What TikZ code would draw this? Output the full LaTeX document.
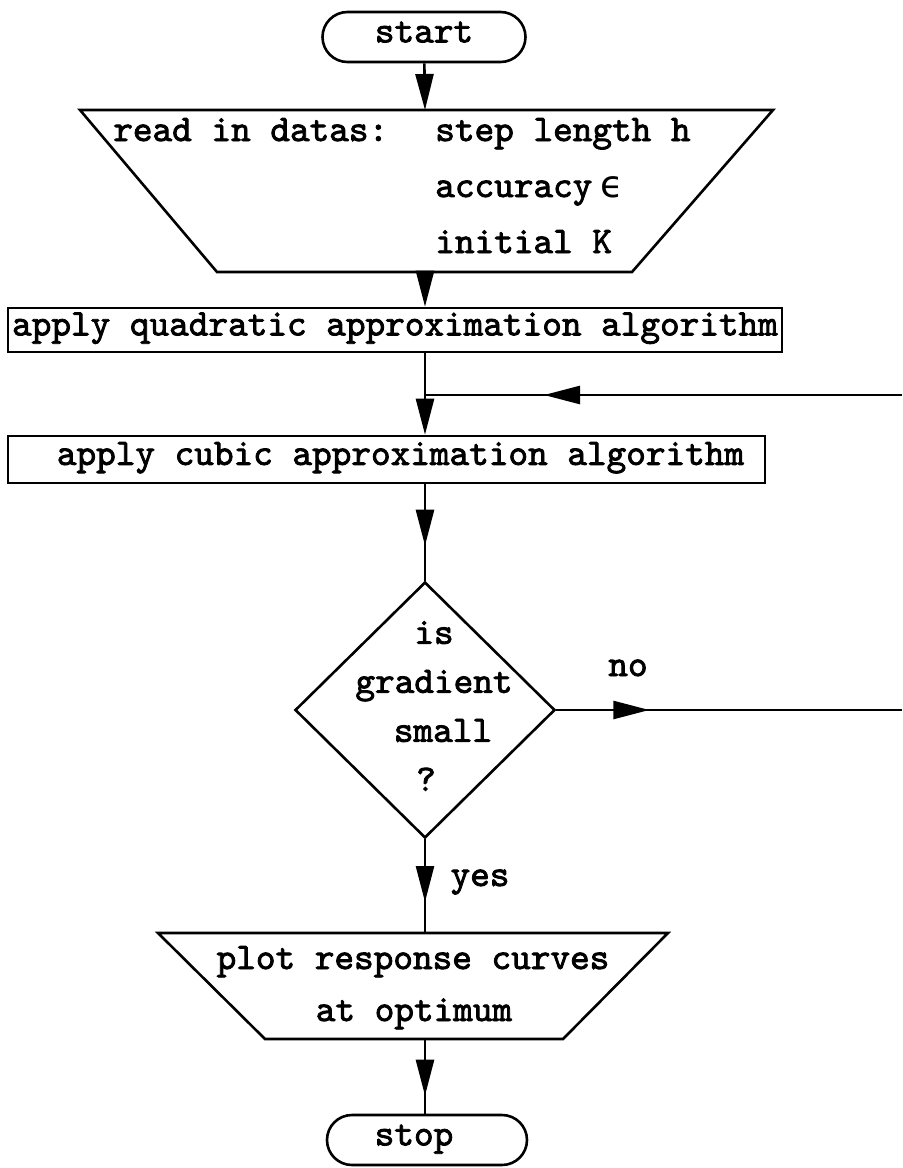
\documentclass[tikz,border=0pt]{standalone}
\usepackage{fontspec}
\newfontfamily\tw[FakeBold=2.2]{lmmono10-regular.otf}
\newfontfamily\dvs{DejaVu Sans}
\usetikzlibrary{shapes.geometric,arrows.meta,decorations.markings}
\tikzset{
  txt/.style={font=\tw\fontsize{18.7}{24.5}\selectfont, inner sep=0pt},
  termbox/.style={txt, draw, rounded corners=12.5pt, minimum width=101.5pt, minimum height=25pt, text height=1.5ex, text depth=.25ex},
  procbox/.style={txt, draw, minimum height=22pt, text height=1.5ex, text depth=.25ex},
  conn/.style={line width=1.3pt},
  endtip/.style={-{Triangle[length=18pt,width=9pt]}},
  tipat/.style={postaction={decorate}, decoration={markings, mark=at position #1 with {\arrow{Triangle[length=18pt,width=9pt]}}}},
}
\begin{document}
\begin{tikzpicture}[x=0.5pt, y=-0.5pt, line width=1.3pt]
\useasboundingbox (0,0) rectangle (902,1168);

% start
\node[termbox] (start) at (424,37) {start};

% input trapezoid
\draw (80,110) -- (773,110) -- (632,272) -- (217,272) -- cycle;
\coordinate (t1top) at (425,110);
\coordinate (t1bot) at (425,272);
\node[txt, anchor=base west] (l1a) at (112,141) {read in datas:};
\node[txt, anchor=base west] (l1b) at (434,141) {step length h};
\node[txt, anchor=base west] (l2) at (434,197) {accuracy\hspace{4pt}{\dvs ϵ}};
\node[txt, anchor=base west] (l3) at (434,253) {initial K};

% process boxes
\node[procbox, minimum width=387pt] (quad) at (395,330) {apply quadratic approximation algorithm};
\node[procbox, minimum width=378.5pt, minimum height=23.5pt] (cubic) at (386.5,459.5) {\hspace*{14pt}apply cubic approximation algorithm};

\coordinate (j) at (425,395);
\coordinate (r1) at (902,395);

% decision
\node[draw, diamond, minimum width=130pt, minimum height=128pt, inner sep=0pt] (dia) at (425,710) {};
\node[txt, align=center] (dtxt) at (434,706) {is\\gradient\\\hspace*{9pt}small\\?\hspace*{8pt}};
\coordinate (r2) at (902,710);
\node[txt, anchor=base] (nolbl) at (628,676) {no};
\node[txt, anchor=base] (yeslbl) at (480,886) {yes};

% output trapezoid
\draw (158,933) -- (668,933) -- (563,1039) -- (265,1039) -- cycle;
\coordinate (t2top) at (425,933);
\coordinate (t2bot) at (425,1039);
\node[txt, anchor=base] (p1) at (413,969) {plot response curves};
\node[txt, anchor=base] (p2) at (414,1021) {at optimum};

% stop
\node[termbox, minimum width=100pt] (stop) at (427,1140) {stop\hspace*{13pt}};

% connectors
\draw[conn, endtip] (start) -- (t1top);
\draw[conn, endtip] (t1bot) -- (t1bot |- quad.north);
\draw[conn, endtip] (t1bot |- quad.south) -- (t1bot |- cubic.north);
\draw[conn, tipat=179pt] (r1) -- (j);
\draw[conn, tipat=-17.5pt] (t1bot |- cubic.south) -- (dia.north);
\draw[conn, tipat=46.5pt] (dia.east) -- (r2);
\draw[conn, tipat=-15.5pt] (dia.south) -- (t2top);
\draw[conn, tipat=-9pt] (t2bot) -- (t2bot |- stop.north);
\end{tikzpicture}
\end{document}
